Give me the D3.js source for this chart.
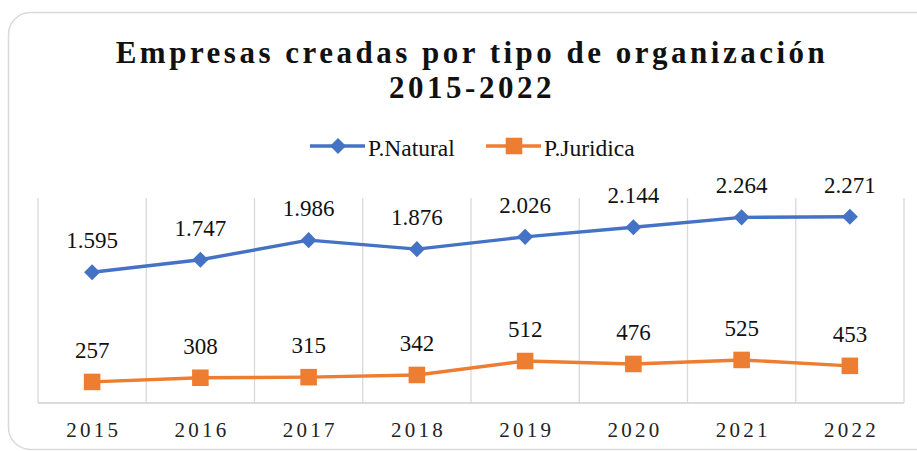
<!DOCTYPE html>
<html><head><meta charset="utf-8">
<script src="https://cdn.jsdelivr.net/npm/d3@7"></script>
<style>body{margin:0;background:#fff}svg{display:block}</style>
</head><body>
<script>
const years = ["2015","2016","2017","2018","2019","2020","2021","2022"];
const natural = [1595,1747,1986,1876,2026,2144,2264,2271];
const juridica = [257,308,315,342,512,476,525,453];
const seriesNames = ["P.Natural","P.Juridica"];
const titleLines = ["Empresas creadas por tipo de organización","2015-2022"];

const FONT="'Liberation Serif', monospace";
const W=917,H=451;
const svg=d3.select("body").append("svg").attr("width",W).attr("height",H);
svg.append("rect").attr("x",8.5).attr("y",12.5).attr("width",940).attr("height",437)
  .attr("rx",22).attr("fill","#fff").attr("stroke","#d9d9d9").attr("stroke-width",1.5);

const m={l:38,r:904,t:198,b:403};
const x=d3.scaleBand().domain(years).range([m.l,m.r]);
const y=d3.scaleLinear().domain([0,2500]).range([m.b,m.t]);
const fmt=d=>d3.format(",")(d).replace(/,/g,".");

// gridlines
const g=svg.append("g");
const edges=years.map(d=>x(d)).concat([m.r]);
g.selectAll("line.v").data(edges).join("line")
  .attr("x1",d=>d).attr("x2",d=>d).attr("y1",m.t).attr("y2",m.b)
  .attr("stroke","#d9d9d9").attr("stroke-width",1.3);
g.append("line").attr("x1",m.l).attr("x2",m.r).attr("y1",m.b).attr("y2",m.b)
  .attr("stroke","#d0d0d0").attr("stroke-width",1.5);

const xa=svg.append("g").attr("transform",`translate(0,${m.b})`).call(d3.axisBottom(x).tickSize(0).tickPadding(0));
xa.select(".domain").remove();
xa.selectAll("text").style("font-family",FONT).style("font-size","21px").attr("fill","#222")
  .attr("letter-spacing",3.3).attr("dy",null).attr("y",34).attr("dx",1.6);

const cx=d=>x(d)+x.bandwidth()/2;
const line=d3.line().x((d,i)=>cx(years[i])).y(d=>y(d));
const colors=["#4472C4","#ED7D31"];
const syms=[d3.symbolDiamond2,d3.symbolSquare2], sizes=[165,350];
[natural,juridica].forEach((vals,si)=>{
  svg.append("path").datum(vals).attr("d",line).attr("fill","none").attr("stroke",colors[si]).attr("stroke-width",3.4).attr("stroke-linejoin","round");
  svg.selectAll(null).data(vals).join("path")
    .attr("transform",(d,i)=>`translate(${cx(years[i])},${y(d)})`)
    .attr("d",d3.symbol(syms[si],sizes[si])).attr("fill",colors[si]);
  svg.selectAll(null).data(vals).join("text")
    .attr("x",(d,i)=>cx(years[i])).attr("y",d=>y(d)-24)
    .attr("text-anchor","middle").style("font-family",FONT).style("font-size","23px").attr("fill","#111")
    .text(d=>fmt(d));
});

// title
svg.selectAll("text.title").data(titleLines).join("text").attr("class","title")
  .attr("x",472).attr("y",(d,i)=>63+i*35).attr("text-anchor","middle")
  .style("font-family",FONT).style("font-weight","bold").style("font-size","31px")
  .attr("letter-spacing",3.5).attr("fill","#111").text(d=>d);

// legend
const leg=[{x:310,i:0},{x:486,i:1}];
leg.forEach(l=>{
  svg.append("line").attr("x1",l.x).attr("x2",l.x+55).attr("y1",146).attr("y2",146).attr("stroke",colors[l.i]).attr("stroke-width",3.4);
  svg.append("path").attr("transform",`translate(${l.x+28},146)`).attr("d",d3.symbol(syms[l.i],sizes[l.i])).attr("fill",colors[l.i]);
  svg.append("text").attr("x",l.x+58).attr("y",155.5).style("font-family",FONT).style("font-size","23.5px").attr("fill","#111").text(seriesNames[l.i]);
});
</script>
</body></html>
